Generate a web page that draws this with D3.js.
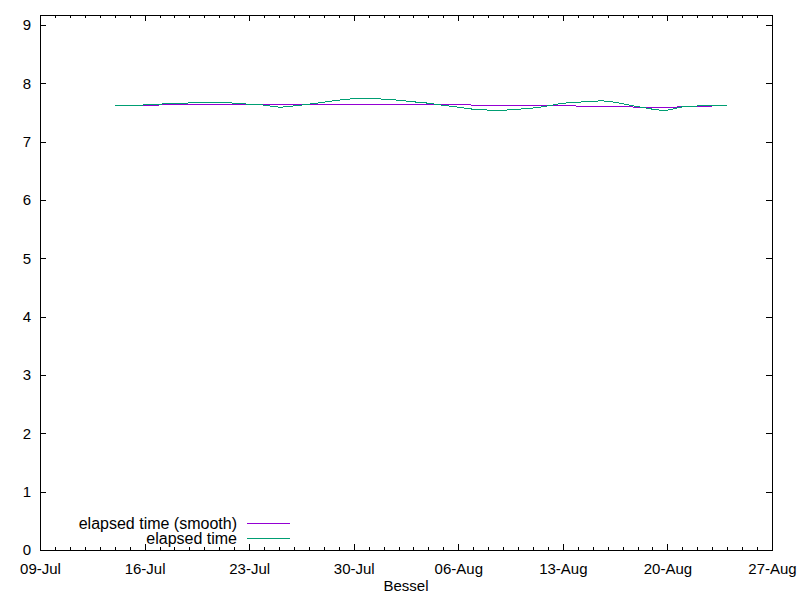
<!DOCTYPE html>
<html>
<head>
<meta charset="utf-8">
<script src="https://cdn.jsdelivr.net/npm/d3@7"></script>
<style>
  body { margin: 0; background: #fff; }
  svg text { font-family: "Liberation Sans", Arial, sans-serif; fill: #000; }
</style>
</head>
<body>
<svg id="chart" width="800" height="600"></svg>
<script>
// raw series, one point per day
const rawDates = [
  "2019-07-14", "2019-07-15", "2019-07-16", "2019-07-17", "2019-07-18", "2019-07-19",
  "2019-07-20", "2019-07-21", "2019-07-22", "2019-07-23", "2019-07-24", "2019-07-25",
  "2019-07-26", "2019-07-27", "2019-07-28", "2019-07-29", "2019-07-30", "2019-07-31",
  "2019-08-01", "2019-08-02", "2019-08-03", "2019-08-04", "2019-08-05", "2019-08-06",
  "2019-08-07", "2019-08-08", "2019-08-09", "2019-08-10", "2019-08-11", "2019-08-12",
  "2019-08-13", "2019-08-14", "2019-08-15", "2019-08-16", "2019-08-17", "2019-08-18",
  "2019-08-19", "2019-08-20", "2019-08-21", "2019-08-22", "2019-08-23", "2019-08-24"
];
const rawValues = [
  7.612, 7.612, 7.629, 7.641, 7.658, 7.662,
  7.675, 7.675, 7.658, 7.641, 7.625, 7.592,
  7.612, 7.641, 7.675, 7.710, 7.735, 7.744,
  7.727, 7.710, 7.682, 7.658, 7.622, 7.590,
  7.555, 7.541, 7.538, 7.555, 7.575, 7.612,
  7.656, 7.675, 7.692, 7.692, 7.648, 7.600,
  7.556, 7.540, 7.596, 7.610, 7.612, 7.612
];

// smoothed series
const smoothDates = [
  "2019-07-15", "2019-07-16", "2019-07-17", "2019-07-18", "2019-07-19", "2019-07-20",
  "2019-07-21", "2019-07-22", "2019-07-23", "2019-07-24", "2019-07-25", "2019-07-26",
  "2019-07-27", "2019-07-28", "2019-07-29", "2019-07-30", "2019-07-31", "2019-08-01",
  "2019-08-02", "2019-08-03", "2019-08-04", "2019-08-05", "2019-08-06", "2019-08-07",
  "2019-08-08", "2019-08-09", "2019-08-10", "2019-08-11", "2019-08-12", "2019-08-13",
  "2019-08-14", "2019-08-15", "2019-08-16", "2019-08-17", "2019-08-18", "2019-08-19",
  "2019-08-20", "2019-08-21", "2019-08-22", "2019-08-23"
];
const smoothValues = [
  7.615, 7.620, 7.629, 7.629, 7.629, 7.629,
  7.629, 7.629, 7.629, 7.629, 7.629, 7.638,
  7.645, 7.641, 7.641, 7.641, 7.641, 7.629,
  7.629, 7.629, 7.629, 7.629, 7.629, 7.629,
  7.612, 7.612, 7.612, 7.612, 7.612, 7.612,
  7.612, 7.598, 7.598, 7.598, 7.590, 7.590,
  7.590, 7.595, 7.595, 7.595
];

const yTicks = [0, 1, 2, 3, 4, 5, 6, 7, 8, 9];
const xStart = "2019-07-09";
const xEnd = "2019-08-27";
const seriesNames = ["elapsed time (smooth)", "elapsed time"];
const xLabel = "Bessel";

const parse = d3.timeParse("%Y-%m-%d");
const colors = ["#9400d3", "#009e73"];

const margin = { top: 15, right: 28, bottom: 50, left: 40 };
const width = 800 - margin.left - margin.right;
const height = 600 - margin.top - margin.bottom;

const svg = d3.select("#chart");
const g = svg.append("g")
    .attr("transform", `translate(${margin.left},${margin.top})`);

const x = d3.scaleTime()
    .domain([parse(xStart), parse(xEnd)])
    .range([0, width]);

const y = d3.scaleLinear()
    .domain([0, 9.17])
    .range([height, 0]);

// daily minor ticks, weekly major ticks starting at the left edge
const dayTicks = d3.timeDays(parse(xStart), d3.timeDay.offset(parse(xEnd), 1));
const weekTicks = dayTicks.filter((d, i) => i % 7 === 0);

function styleAxis(sel) {
    sel.select(".domain").remove();
    sel.selectAll("line").attr("stroke", "#000").attr("shape-rendering", "crispEdges");
    sel.selectAll("text").style("font-size", "15px").attr("fill", "#000");
}

// minor daily ticks, bottom and top
g.append("g")
    .attr("transform", `translate(0,${height})`)
    .call(d3.axisBottom(x).tickValues(dayTicks).tickSize(-3).tickFormat(""))
    .call(styleAxis);
g.append("g")
    .call(d3.axisTop(x).tickValues(dayTicks).tickSize(-3).tickFormat(""))
    .call(styleAxis);

// major weekly ticks
g.append("g")
    .attr("transform", `translate(0,${height})`)
    .call(d3.axisBottom(x).tickValues(weekTicks).tickSize(-6).tickPadding(13)
        .tickFormat(d3.timeFormat("%d-%b")))
    .call(styleAxis);
g.append("g")
    .call(d3.axisTop(x).tickValues(weekTicks).tickSize(-6).tickFormat(""))
    .call(styleAxis);

// y axis left and mirrored right
g.append("g")
    .call(d3.axisLeft(y).tickValues(yTicks).tickSize(-6).tickPadding(9)
        .tickFormat(d3.format("d")))
    .call(styleAxis);
g.append("g")
    .attr("transform", `translate(${width},0)`)
    .call(d3.axisRight(y).tickValues(yTicks).tickSize(-6).tickFormat(""))
    .call(styleAxis);

// frame
g.append("rect")
    .attr("x", 0).attr("y", 0)
    .attr("width", width).attr("height", height)
    .attr("fill", "none").attr("stroke", "#000")
    .attr("shape-rendering", "crispEdges");

// series
const series = [
    { dates: smoothDates, values: smoothValues, curve: d3.curveBasis },
    { dates: rawDates, values: rawValues, curve: d3.curveNatural }
];

series.forEach((s, i) => {
    const pts = s.dates.map((d, j) => [parse(d), s.values[j]]);
    const line = d3.line()
        .x(d => x(d[0]))
        .y(d => y(d[1]))
        .curve(s.curve);
    g.append("path")
        .datum(pts)
        .attr("d", line)
        .attr("fill", "none")
        .attr("stroke", colors[i])
        .attr("stroke-width", 1)
        .attr("shape-rendering", "crispEdges");
});

// legend
seriesNames.forEach((name, i) => {
    const ly = 523 + i * 15 - margin.top;
    g.append("text")
        .attr("x", 237 - margin.left)
        .attr("y", ly)
        .attr("dy", "0.35em")
        .attr("text-anchor", "end")
        .style("font-size", "16px")
        .text(name);
    g.append("line")
        .attr("x1", 247 - margin.left).attr("x2", 290 - margin.left)
        .attr("y1", ly).attr("y2", ly)
        .attr("stroke", colors[i])
        .attr("stroke-width", 1)
        .attr("shape-rendering", "crispEdges");
});

// x label
g.append("text")
    .attr("x", width / 2)
    .attr("y", height + 41)
    .attr("text-anchor", "middle")
    .style("font-size", "15px")
    .text(xLabel);
</script>
</body>
</html>
